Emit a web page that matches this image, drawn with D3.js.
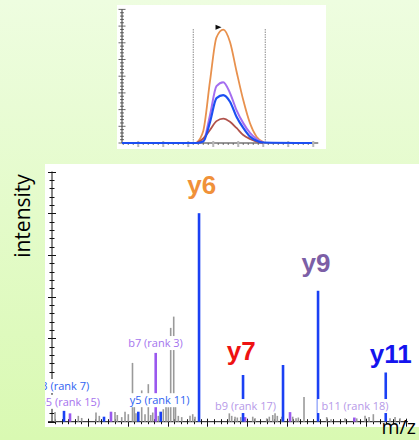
<!DOCTYPE html>
<html><head><meta charset="utf-8">
<script src="https://cdn.jsdelivr.net/npm/d3@7"></script>
<style>html,body{margin:0;padding:0;background:#fff}svg{display:block}</style>
</head><body>
<svg id="chart" width="419" height="440"></svg>
<script>
// ---- Extracted ion chromatogram (inset) ----
const rtMin      = [23.33, 23.6, 23.87, 24.13, 24.4, 24.67, 24.93, 25.2, 25.47, 25.73, 26.0];
const xicOrange  = [0, 0.72, 3.70, 6.33, 6.79, 6.05, 4.30, 2.57, 1.18, 0.38, 0.06];
const xicPurple  = [0, 0.12, 1.67, 3.40, 3.64, 2.99, 1.97, 1.19, 0.60, 0.24, 0.03];
const xicBlue    = [0, 0.09, 1.25, 2.69, 2.87, 2.47, 1.57, 0.90, 0.38, 0.14, 0.03];
const xicBrown   = [0, 0.27, 0.78, 1.31, 1.46, 1.27, 0.90, 0.48, 0.24, 0.08, 0.01];
const rtRange    = [20.35, 27.95];
const apex       = [24.21, 6.93];
const peakBounds = [23.2, 26.08];

// ---- MS/MS spectrum ----
const noiseMz  = [117, 175.6, 184.1, 220.1, 228.4, 267.9, 273.7, 284.8, 293.1, 301.4, 311.9, 316.5, 320.7, 335.1,
                  343.4, 351.7, 357.7, 362.8, 376.9, 389.4, 396.2, 402.0, 408.0, 415.6, 420.1, 427.2, 435.7, 456.6,
                  463.4, 469.2, 555.5, 561.5, 569.8, 575.6, 584.2, 614.4, 620.2, 649.6, 656.1, 664.7, 670.5, 676.2,
                  687.3, 715.0, 723.3, 729.1, 743.4, 800.5, 811.4, 846.6, 876.0, 896.9, 907.0, 917.8, 959.8, 972.4, 985.0];
const noiseInt = [0.23, 0.14, 0.09, 0.22, 0.14, 0.23, 0.16, 0.11, 0.24, 0.18, 1.41, 0.36, 0.20, 0.75,
                  0.18, 0.90, 0.16, 0.22, 0.14, 0.30, 0.36, 0.35, 2.25, 2.52, 0.36, 0.14, 0.11, 0.14,
                  0.18, 0.12, 0.20, 0.14, 0.12, 0.10, 0.11, 0.12, 0.08, 0.08, 0.12, 0.16, 0.20, 0.14,
                  0.12, 0.12, 0.08, 0.10, 0.59, 0.11, 0.06, 0.08, 0.08, 0.14, 0.11, 0.18, 0.08, 0.11, 0.08];
const yIonMz   = [139.6, 240.2, 326.5, 382.9, 479.3, 590.0, 690.6, 778.7, 949.0];
const yIonInt  = [0.26, 0.12, 0.24, 0.24, 5.00, 1.12, 1.36, 3.14, 1.18];
const bIonMz   = [154.7, 257.8, 370.3, 595.0, 708.2, 870.0];
const bIonInt  = [0.20, 0.24, 1.65, 0.11, 0.23, 0.10];

// Transition labels (text, m/z centre, intensity of text baseline, colour)
const bigText  = ["y6", "y9", "y7", "y11"];
const bigMz    = [486, 773.6, 585.7, 961.6];
const bigAt    = [5.46, 3.59, 1.48, 1.40];
const bigColor = ["#f0913a", "#7c5fa6", "#ee1212", "#1414ee"];

// Library rank annotations
const rankText  = ["y3 (rank 7)", "b5 (rank 15)", "b7 (rank 3)", "y5 (rank 11)", "b9 (rank 17)", "b11 (rank 18)"];
const rankMz    = [135.8, 153.4, 369.8, 380.4, 596.3, 871.7];
const rankAt    = [0.76, 0.38, 1.79, 0.42, 0.28, 0.28];
const rankColor = ["#2e62f2", "#a672ee", "#a474ee", "#2e62f2", "#b699e8", "#b699e8"];

const svg = d3.select("#chart");
const defs = svg.append("defs");

// slide background
const grad = defs.append("linearGradient").attr("id", "bg").attr("x1", 0).attr("y1", 0).attr("x2", 0).attr("y2", 1);
grad.append("stop").attr("offset", "0%").attr("stop-color", "#eefde0");
grad.append("stop").attr("offset", "100%").attr("stop-color", "#d9f9b2");
svg.append("rect").attr("width", 419).attr("height", 440).attr("fill", "url(#bg)");

// ================= inset chromatogram =================
defs.append("filter").attr("id", "soft").append("feGaussianBlur").attr("stdDeviation", 0.35);
svg.append("rect").attr("x", 117).attr("y", 5).attr("width", 209).attr("height", 144).attr("fill", "#fff");
const inset = svg.append("g").attr("filter", "url(#soft)");

const tx = d3.scaleLinear().domain([20.35, 28.2]).range([122, 318.25]);
const ty = d3.scaleLinear().domain([0, 8]).range([143, 9.4]);

// y axis with dense ticks
inset.append("line").attr("x1", tx(20.35)).attr("x2", tx(20.35)).attr("y1", ty(8)).attr("y2", ty(0))
  .attr("stroke", "#333").attr("stroke-width", 1);
d3.range(0, 8.001, 0.2).forEach(v => {
  const major = Math.abs(v - Math.round(v)) < 1e-6;
  inset.append("line").attr("x1", tx(20.35) - (major ? 3.5 : 2)).attr("x2", tx(20.35) + (major ? 3.5 : 2))
    .attr("y1", ty(v)).attr("y2", ty(v)).attr("stroke", "#444").attr("stroke-width", 0.8);
});
// x axis
inset.append("line").attr("x1", tx(20.35)).attr("x2", tx(28.2)).attr("y1", ty(0)).attr("y2", ty(0))
  .attr("stroke", "#333").attr("stroke-width", 1);
d3.range(20.4, 28.2, 0.2).forEach(v => {
  inset.append("line").attr("x1", tx(v)).attr("x2", tx(v)).attr("y1", ty(0)).attr("y2", ty(0) + 2)
    .attr("stroke", "#555").attr("stroke-width", 0.8);
});
d3.range(21, 28.01, 1).forEach(v => {
  inset.append("line").attr("x1", tx(v)).attr("x2", tx(v)).attr("y1", ty(0) - 2).attr("y2", ty(0) + 4)
    .attr("stroke", "#b8b8b8").attr("stroke-width", 2);
});
// integration boundaries
peakBounds.forEach(t => {
  inset.append("line").attr("x1", tx(t)).attr("x2", tx(t)).attr("y1", 29).attr("y2", ty(0))
    .attr("stroke", "#8a8a8a").attr("stroke-width", 1).attr("stroke-dasharray", "1.5,1");
});

const line = d3.line().x(d => tx(d[0])).y(d => ty(d[1])).curve(d3.curveMonotoneX);
const trace = (vals, color, w, full) => {
  let pts = rtMin.map((t, i) => [t, vals[i]]);
  if (full) pts = [[rtRange[0], 0]].concat(pts, [[rtRange[1], 0]]);
  inset.append("path").attr("d", line(pts)).attr("fill", "none")
    .attr("stroke", color).attr("stroke-width", w).attr("stroke-linejoin", "round");
};
trace(xicOrange, "#e8914e", 1.8, false);
trace(xicPurple, "#a46ef0", 2, false);
trace(xicBrown, "#b0524c", 1.8, false);
trace(xicBlue, "#1f50f2", 2.2, true);

// apex marker
const ax = tx(apex[0]), ay = ty(apex[1]);
inset.append("path").attr("d", `M${ax - 3},${ay - 2.5}L${ax + 3},${ay}L${ax - 3},${ay + 2.5}Z`).attr("fill", "#111");

// ================= MS/MS spectrum =================
svg.append("rect").attr("x", 45).attr("y", 164).attr("width", 374).attr("height", 263).attr("fill", "#fff");
defs.append("clipPath").attr("id", "plotclip").append("rect")
  .attr("x", 45).attr("y", 164).attr("width", 374).attr("height", 263);
const plot = svg.append("g").attr("clip-path", "url(#plotclip)");

const x = d3.scaleLinear().domain([109.4, 1005]).range([52, 408]);
const y = d3.scaleLinear().domain([0, 6]).range([421.7, 171.5]);

// axes
plot.append("line").attr("x1", x(109.4)).attr("x2", x(109.4)).attr("y1", y(6)).attr("y2", y(0)).attr("stroke", "#111");
d3.range(0, 6.001, 0.2).forEach(v => {
  const major = Math.abs(v - Math.round(v)) < 1e-6;
  plot.append("line").attr("x1", x(109.4) - (major ? 4 : 2.5)).attr("x2", x(109.4) + (major ? 4 : 2.5))
    .attr("y1", Math.round(y(v)) + 0.5).attr("y2", Math.round(y(v)) + 0.5).attr("stroke", "#111");
});
plot.append("line").attr("x1", 48).attr("x2", 408).attr("y1", y(0)).attr("y2", y(0)).attr("stroke", "#111");
d3.range(200 - 100 / 6 * 5, 1005, 100 / 6).forEach(v => {
  plot.append("line").attr("x1", Math.round(x(v)) + 0.5).attr("x2", Math.round(x(v)) + 0.5)
    .attr("y1", y(0) - 2.5).attr("y2", y(0) + 2.5).attr("stroke", "#111");
});
d3.range(200, 1001, 100).forEach(v => {
  plot.append("line").attr("x1", Math.round(x(v)) + 0.5).attr("x2", Math.round(x(v)) + 0.5)
    .attr("y1", y(0) - 3).attr("y2", y(0) + 5).attr("stroke", "#111");
});

// peaks
const bars = (mz, inten, color, w) => {
  plot.append("g").selectAll("line").data(mz).join("line")
    .attr("x1", d => x(d)).attr("x2", d => x(d))
    .attr("y1", y(0)).attr("y2", (d, i) => y(inten[i]))
    .attr("stroke", color).attr("stroke-width", w);
};
bars(noiseMz, noiseInt, "#9a9a9a", 1.6);
bars(bIonMz, bIonInt, "#9a58ee", 2.6);
bars(yIonMz, yIonInt, "#1a40f4", 2.6);

// rank annotations on white boxes
rankText.forEach((t, i) => {
  const g = plot.append("g");
  const txt = g.append("text").attr("x", x(rankMz[i])).attr("y", y(rankAt[i]))
    .attr("text-anchor", "middle").attr("font-family", "Open Sans, sans-serif").attr("font-size", 11)
    .attr("fill", rankColor[i]).text(t);
  const bb = txt.node().getBBox();
  g.insert("rect", "text").attr("x", bb.x - 4).attr("y", bb.y + 1).attr("width", bb.width + 8)
    .attr("height", bb.height - 1).attr("fill", "#fff");
});

// transition labels
bigText.forEach((t, i) => {
  plot.append("text").attr("x", x(bigMz[i])).attr("y", y(bigAt[i])).attr("text-anchor", "middle")
    .attr("font-family", "Liberation Sans, Arial, sans-serif").attr("font-weight", "bold").attr("font-size", 26)
    .attr("fill", bigColor[i]).text(t);
});

// axis titles
svg.append("text").attr("transform", "translate(30,216) rotate(-90)").attr("text-anchor", "middle")
  .attr("font-family", "Open Sans, sans-serif").attr("font-size", 21).attr("fill", "#000").text("intensity");
svg.append("text").attr("x", 381.5).attr("y", 434)
  .attr("font-family", "Open Sans, sans-serif").attr("font-size", 19.5).attr("fill", "#000").text("m/z");
</script>
</body></html>
